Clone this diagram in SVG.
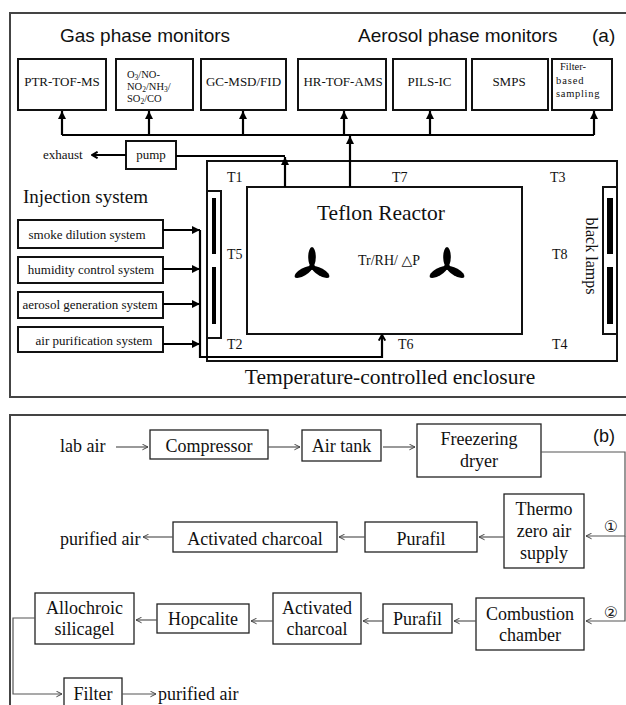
<svg xmlns="http://www.w3.org/2000/svg" width="626" height="705" viewBox="0 0 626 705">
<style>
.panel{fill:none;stroke:#444;stroke-width:2}
.box{fill:#fff;stroke:#111;stroke-width:2}
.boxb{fill:#fff;stroke:#222;stroke-width:1.3}
.line{fill:none;stroke:#000;stroke-width:2.2}
.lineb{fill:none;stroke:#555;stroke-width:1.2}
.sans{font-family:"Liberation Sans",Arial,sans-serif;fill:#111}
.serif{font-family:"Liberation Serif","DejaVu Serif","Times New Roman",serif;fill:#111}
.m13{font-size:13px}
.t14{font-size:14px}
.b18{font-size:18px}
</style>
<defs>
<marker id="ah" viewBox="0 0 10 10" refX="10" refY="5" markerWidth="8" markerHeight="8" markerUnits="userSpaceOnUse" orient="auto"><path d="M0,0 L10,5 L0,10 z" fill="#000"/></marker>
<marker id="chevA" viewBox="0 0 10 10" refX="9" refY="5" markerWidth="8" markerHeight="8" markerUnits="userSpaceOnUse" orient="auto"><path d="M2,1 L9,5 L2,9" fill="none" stroke="#000" stroke-width="2.5"/></marker>
<marker id="chev" viewBox="0 0 10 10" refX="9" refY="5" markerWidth="7" markerHeight="7" markerUnits="userSpaceOnUse" orient="auto"><path d="M1,1 L9,5 L1,9" fill="none" stroke="#444" stroke-width="1.4"/></marker>
<g id="fan"><ellipse cx="0" cy="-10" rx="3.8" ry="10" fill="#000"/><ellipse cx="0" cy="-10" rx="3.8" ry="10" fill="#000" transform="rotate(120)"/><ellipse cx="0" cy="-10" rx="3.8" ry="10" fill="#000" transform="rotate(240)"/><circle r="3" fill="#000"/></g>
</defs>

<!-- Panel (a) -->
<g id="panel-a">
<rect class="panel" x="10" y="13" width="630" height="384"/>
<text class="sans" x="60" y="42" font-size="19">Gas phase monitors</text>
<text class="sans" x="358" y="42" font-size="19">Aerosol phase monitors</text>
<text class="sans" x="592" y="42" font-size="19">(a)</text>
</g>

<g id="ptr"><rect class="box" x="18" y="59" width="88" height="51"/><text class="serif m13" x="62" y="86" text-anchor="middle">PTR-TOF-MS</text></g>
<g id="gases"><rect class="box" x="116" y="59" width="77" height="51"/>
<text class="serif" font-size="10.5" x="127" y="78">O<tspan font-size="7.5" dy="2">3</tspan><tspan dy="-2">/NO-</tspan></text>
<text class="serif" font-size="10.5" x="127" y="90">NO<tspan font-size="7.5" dy="2">2</tspan><tspan dy="-2">/NH</tspan><tspan font-size="7.5" dy="2">3</tspan><tspan dy="-2">/</tspan></text>
<text class="serif" font-size="10.5" x="127" y="102">SO<tspan font-size="7.5" dy="2">2</tspan><tspan dy="-2">/CO</tspan></text></g>
<g id="gcms"><rect class="box" x="201" y="59" width="85" height="51"/><text class="serif m13" x="243.5" y="86" text-anchor="middle">GC-MSD/FID</text></g>
<g id="ams"><rect class="box" x="298" y="59" width="88" height="51"/><text class="serif m13" x="343" y="86" text-anchor="middle">HR-TOF-AMS</text></g>
<g id="pils"><rect class="box" x="393" y="59" width="73" height="51"/><text class="serif m13" x="429.5" y="86" text-anchor="middle">PILS-IC</text></g>
<g id="smps"><rect class="box" x="472" y="59" width="76" height="51"/><text class="serif m13" x="509" y="86" text-anchor="middle">SMPS</text></g>
<g id="filter-sampling"><rect class="box" x="552" y="59" width="60" height="51"/>
<text class="serif" font-size="10.5" x="560" y="70">Filter-</text>
<text class="serif" font-size="10.5" x="556" y="84" letter-spacing="0.9">based</text>
<text class="serif" font-size="10.5" x="556" y="97" letter-spacing="0.7">sampling</text></g>

<g id="pump"><rect class="box" x="126" y="141" width="50" height="28"/><text class="serif m13" x="151" y="159" text-anchor="middle">pump</text></g>
<text class="serif m13" x="43" y="159">exhaust</text>

<g id="enclosure">
<rect class="box" x="207" y="161" width="410" height="200"/>
<text class="serif" x="390" y="384" font-size="21.5" text-anchor="middle">Temperature-controlled enclosure</text>
<text class="serif t14" x="227" y="182">T1</text>
<text class="serif t14" x="392" y="182">T7</text>
<text class="serif t14" x="550" y="182">T3</text>
<text class="serif t14" x="227" y="259">T5</text>
<text class="serif t14" x="552" y="259">T8</text>
<text class="serif t14" x="227" y="349">T2</text>
<text class="serif t14" x="398" y="349">T6</text>
<text class="serif t14" x="552" y="349">T4</text>
</g>
<g id="lamps-left"><rect class="box" x="207" y="191" width="14" height="147"/><rect x="212" y="198" width="4" height="56" fill="#000"/><rect x="212" y="267" width="4" height="57" fill="#000"/></g>
<g id="lamps-right"><rect class="box" x="603" y="187" width="14" height="147"/><rect x="607" y="198" width="6" height="56" fill="#000"/><rect x="607" y="267" width="6" height="57" fill="#000"/>
<text class="serif" font-size="16" text-anchor="middle" transform="translate(586,256) rotate(90)">black lamps</text></g>

<g id="reactor"><rect class="box" x="247" y="187" width="275" height="147"/>
<text class="serif" x="381" y="220" font-size="21.5" text-anchor="middle">Teflon Reactor</text>
<text class="serif t14" x="389" y="265" text-anchor="middle">Tr/RH/ △P</text>
<use href="#fan" x="312" y="267"/>
<use href="#fan" x="447" y="267"/></g>

<g id="injection">
<text class="serif" x="23" y="203" font-size="19">Injection system</text>
<g id="smoke"><rect class="box" x="18" y="220" width="145" height="28"/><text class="serif m13" x="87" y="239" text-anchor="middle">smoke dilution system</text></g>
<g id="humidity"><rect class="box" x="18" y="257" width="145" height="26"/><text class="serif m13" x="91" y="274" text-anchor="middle">humidity control system</text></g>
<g id="aerosol"><rect class="box" x="18" y="292" width="145" height="26"/><text class="serif m13" x="90" y="309" text-anchor="middle">aerosol generation system</text></g>
<g id="airpur"><rect class="box" x="18" y="327" width="145" height="25"/><text class="serif m13" x="94" y="345" text-anchor="middle">air purification system</text></g>
</g>

<g id="connectors-a">
<path class="line" d="M62,135 H594"/>
<path class="line" d="M62,135 V111" marker-end="url(#ah)"/>
<path class="line" d="M149,135 V111" marker-end="url(#ah)"/>
<path class="line" d="M243,135 V111" marker-end="url(#ah)"/>
<path class="line" d="M344,135 V111" marker-end="url(#ah)"/>
<path class="line" d="M430,135 V111" marker-end="url(#ah)"/>
<path class="line" d="M594,135 V111" marker-end="url(#ah)"/>
<path class="line" d="M350,187 V136" marker-end="url(#ah)"/>
<path class="line" d="M176,156 H285"/>
<path class="line" d="M285,187 V157" marker-end="url(#ah)"/>
<path class="line" d="M126,155 H92" marker-end="url(#chevA)"/>
<path class="line" d="M163,230 H200" marker-end="url(#ah)"/>
<path class="line" d="M163,269 H200" marker-end="url(#ah)"/>
<path class="line" d="M163,304 H200" marker-end="url(#ah)"/>
<path class="line" d="M163,344 H200" marker-end="url(#ah)"/>
<path class="line" d="M200,230 V357 H382 V335" marker-end="url(#chevA)"/>
</g>

<!-- Panel (b) -->
<g id="panel-b">
<rect class="panel" x="10" y="415" width="630" height="310"/>
<text class="sans" x="593" y="442" font-size="18">(b)</text>
<text class="serif b18" x="60" y="452">lab air</text>
<text class="serif b18" x="60" y="545">purified air</text>
<text class="serif b18" x="158" y="700">purified air</text>
<text x="611" y="532" font-size="16" text-anchor="middle" font-family="'DejaVu Sans','Noto Sans CJK SC',sans-serif" fill="#222">①</text>
<text x="611" y="618" font-size="16" text-anchor="middle" font-family="'DejaVu Sans','Noto Sans CJK SC',sans-serif" fill="#222">②</text>
</g>
<g id="compressor"><rect class="boxb" x="150" y="430" width="118" height="29"/><text class="serif b18" x="209" y="452" text-anchor="middle">Compressor</text></g>
<g id="airtank"><rect class="boxb" x="302" y="430" width="79" height="31"/><text class="serif b18" x="341.5" y="452" text-anchor="middle">Air tank</text></g>
<g id="dryer"><rect class="boxb" x="417" y="424" width="124" height="53"/><text class="serif b18" x="479" y="445" text-anchor="middle">Freezering</text><text class="serif b18" x="479" y="467" text-anchor="middle">dryer</text></g>
<g id="thermo"><rect class="boxb" x="504" y="494" width="80" height="74"/><text class="serif b18" x="544" y="515" text-anchor="middle">Thermo</text><text class="serif b18" x="544" y="537" text-anchor="middle">zero air</text><text class="serif b18" x="544" y="559" text-anchor="middle">supply</text></g>
<g id="purafil1"><rect class="boxb" x="365" y="522" width="112" height="30"/><text class="serif b18" x="421" y="545" text-anchor="middle">Purafil</text></g>
<g id="charcoal1"><rect class="boxb" x="173" y="522" width="164" height="30"/><text class="serif b18" x="255" y="545" text-anchor="middle">Activated charcoal</text></g>
<g id="combustion"><rect class="boxb" x="476" y="598" width="108" height="52"/><text class="serif b18" x="530" y="620" text-anchor="middle">Combustion</text><text class="serif b18" x="530" y="641" text-anchor="middle">chamber</text></g>
<g id="purafil2"><rect class="boxb" x="383" y="604" width="69" height="29"/><text class="serif b18" x="417.5" y="625" text-anchor="middle">Purafil</text></g>
<g id="charcoal2"><rect class="boxb" x="273" y="593" width="88" height="51"/><text class="serif b18" x="317" y="614" text-anchor="middle">Activated</text><text class="serif b18" x="317" y="635" text-anchor="middle">charcoal</text></g>
<g id="hopcalite"><rect class="boxb" x="157" y="604" width="92" height="29"/><text class="serif b18" x="203" y="625" text-anchor="middle">Hopcalite</text></g>
<g id="silicagel"><rect class="boxb" x="35" y="593" width="99" height="51"/><text class="serif b18" x="84.5" y="614" text-anchor="middle">Allochroic</text><text class="serif b18" x="84.5" y="635" text-anchor="middle">silicagel</text></g>
<g id="filter"><rect class="boxb" x="64" y="678" width="58" height="36"/><text class="serif b18" x="93" y="700" text-anchor="middle">Filter</text></g>

<g id="connectors-b">
<path class="lineb" d="M116,447 H148" marker-end="url(#chev)"/>
<path class="lineb" d="M268,447 H300" marker-end="url(#chev)"/>
<path class="lineb" d="M383,447 H415" marker-end="url(#chev)"/>
<path class="lineb" d="M541,452 H625 V536 H586" marker-end="url(#chev)"/>
<path class="lineb" d="M625,536 V621 H586" marker-end="url(#chev)"/>
<path class="lineb" d="M504,537 H479" marker-end="url(#chev)"/>
<path class="lineb" d="M365,537 H339" marker-end="url(#chev)"/>
<path class="lineb" d="M173,537 H143" marker-end="url(#chev)"/>
<path class="lineb" d="M476,621 H454" marker-end="url(#chev)"/>
<path class="lineb" d="M383,621 H363" marker-end="url(#chev)"/>
<path class="lineb" d="M273,621 H251" marker-end="url(#chev)"/>
<path class="lineb" d="M157,620 H136" marker-end="url(#chev)"/>
<path class="lineb" d="M35,618 H13 V694 H62" marker-end="url(#chev)"/>
<path class="lineb" d="M122,694 H156" marker-end="url(#chev)"/>
</g>
</svg>
